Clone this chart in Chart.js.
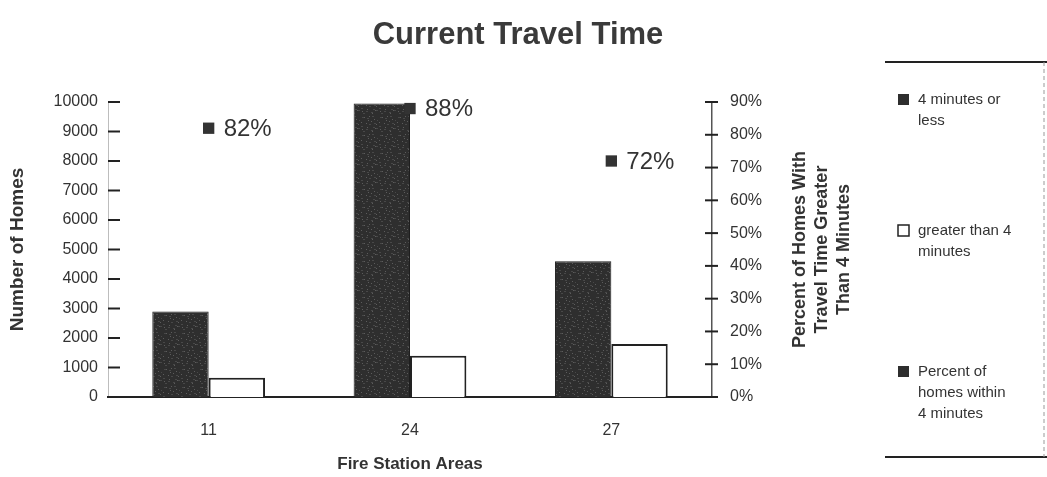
<!DOCTYPE html>
<html>
<head>
<meta charset="utf-8">
<script src="https://cdn.jsdelivr.net/npm/chart.js@4.4.1/dist/chart.umd.min.js"></script>
<style>
  html, body { margin: 0; padding: 0; background: #ffffff; }
  #wrap { position: relative; width: 1047px; height: 477px; }
</style>
</head>
<body>
<div id="wrap"><canvas id="c"></canvas></div>
<script>
// Fire station areas and homes reached by travel time
const stations = ['11', '24', '27'];
const homesWithin4 = [2900, 9950, 4600];
const homesOver4 = [650, 1400, 1800];
const pctWithin4 = [82, 88, 72];

// Axis tick values
const homeTicks = [0, 1000, 2000, 3000, 4000, 5000, 6000, 7000, 8000, 9000, 10000];
const pctTicks = [0, 10, 20, 30, 40, 50, 60, 70, 80, 90];

// Legend wording (wrapped lines)
const legendLines = [
  ['4 minutes or', 'less'],
  ['greater than 4', 'minutes'],
  ['Percent of', 'homes within', '4 minutes']
];
const rightTitleLines = ['Percent of Homes With', 'Travel Time Greater', 'Than 4 Minutes'];

const INK = '#333333';
const FONT = "'Liberation Sans', Arial, sans-serif";

// Grainy dark fill for the "4 minutes or less" bars
function grainPattern() {
  const c = document.createElement('canvas');
  c.width = 18; c.height = 18;
  const g = c.getContext('2d');
  g.fillStyle = '#2e2e2e';
  g.fillRect(0, 0, 18, 18);
  const spots = [[2,3],[7,1],[12,5],[15,2],[4,9],[9,8],[14,11],[1,14],[6,15],[11,13],[16,16],[8,12]];
  g.fillStyle = '#5c5c5c';
  spots.forEach(([x, y]) => g.fillRect(x, y, 1, 1));
  g.fillStyle = '#484848';
  spots.forEach(([x, y]) => g.fillRect((x + 5) % 18, (y + 7) % 18, 2, 1));
  return g.createPattern(c, 'repeat');
}

const decorPlugin = {
  id: 'decor',
  afterDraw(chart) {
    const ctx = chart.ctx;
    const area = chart.chartArea;
    const yL = chart.scales.y;
    const yR = chart.scales.y1;
    ctx.save();

    // Title
    ctx.fillStyle = '#3a3a3a';
    ctx.font = 'bold 31px ' + FONT;
    ctx.textAlign = 'center';
    ctx.textBaseline = 'middle';
    ctx.fillText('Current Travel Time', 518, 35);

    // Tick marks on both value axes
    ctx.strokeStyle = '#222';
    ctx.lineWidth = 2;
    homeTicks.forEach(v => {
      const y = yL.getPixelForValue(v);
      ctx.beginPath(); ctx.moveTo(area.left, y); ctx.lineTo(area.left + 12, y); ctx.stroke();
    });
    pctTicks.forEach(v => {
      const y = yR.getPixelForValue(v);
      ctx.beginPath(); ctx.moveTo(area.right - 7, y); ctx.lineTo(area.right + 6, y); ctx.stroke();
    });

    // Right axis title, reading upward
    ctx.fillStyle = INK;
    ctx.font = 'bold 18px ' + FONT;
    const cy = (area.top + area.bottom) / 2;
    rightTitleLines.forEach((t, i) => {
      ctx.save();
      ctx.translate(800 + i * 22, cy);
      ctx.rotate(-Math.PI / 2);
      ctx.fillText(t, 0, 0);
      ctx.restore();
    });

    // Percentage labels beside the markers
    const meta = chart.getDatasetMeta(2);
    ctx.font = '24px ' + FONT;
    ctx.textAlign = 'left';
    ctx.fillStyle = INK;
    meta.data.forEach((pt, i) => {
      ctx.fillText(pctWithin4[i] + '%', pt.x + 15, pt.y + 1);
    });

    // Legend panel
    ctx.strokeStyle = '#222';
    ctx.lineWidth = 2;
    ctx.beginPath(); ctx.moveTo(885, 62); ctx.lineTo(1047, 62); ctx.stroke();
    ctx.beginPath(); ctx.moveTo(885, 457); ctx.lineTo(1047, 457); ctx.stroke();
    ctx.strokeStyle = '#999';
    ctx.lineWidth = 1;
    ctx.setLineDash([4, 3]);
    ctx.beginPath(); ctx.moveTo(1044, 62); ctx.lineTo(1044, 457); ctx.stroke();
    ctx.setLineDash([]);

    const rowTops = [100, 231, 372];
    ctx.font = '15px ' + FONT;
    ctx.textBaseline = 'middle';
    chart.data.datasets.forEach((ds, i) => {
      const top = rowTops[i];
      if (i === 1) {
        ctx.fillStyle = '#fff';
        ctx.fillRect(898, top - 6, 11, 11);
        ctx.strokeStyle = '#222';
        ctx.lineWidth = 1.5;
        ctx.strokeRect(898, top - 6, 11, 11);
      } else {
        ctx.fillStyle = '#2e2e2e';
        ctx.fillRect(898, top - 6, 11, 11);
      }
      ctx.fillStyle = INK;
      legendLines[i].forEach((line, k) => {
        ctx.fillText(line, 918, top + k * 21);
      });
    });
    ctx.restore();
  }
};

new Chart(document.getElementById('c'), {
  data: {
    labels: stations,
    datasets: [
      {
        type: 'bar',
        label: '4 minutes or less',
        data: homesWithin4,
        backgroundColor: grainPattern(),
        borderColor: '#1e1e1e',
        borderWidth: 1,
        yAxisID: 'y',
        order: 1,
        categoryPercentage: 0.56,
        barPercentage: 1.0
      },
      {
        type: 'bar',
        label: 'greater than 4 minutes',
        data: homesOver4,
        backgroundColor: '#ffffff',
        borderColor: '#222222',
        borderWidth: 2,
        borderSkipped: 'bottom',
        yAxisID: 'y',
        order: 2,
        categoryPercentage: 0.56,
        barPercentage: 1.0
      },
      {
        type: 'line',
        label: 'Percent of homes within 4 minutes',
        data: pctWithin4,
        yAxisID: 'y1',
        showLine: false,
        pointStyle: 'rect',
        pointRadius: 8,
        pointHoverRadius: 8,
        pointBackgroundColor: '#333333',
        pointBorderColor: '#333333',
        pointBorderWidth: 0,
        order: 0
      }
    ]
  },
  options: {
    responsive: true,
    maintainAspectRatio: false,
    animation: false,
    layout: { padding: { top: 102, left: 0, right: 0, bottom: 0 } },
    plugins: {
      legend: { display: false },
      tooltip: { enabled: false },
      title: { display: false }
    },
    scales: {
      x: {
        grid: { display: false, drawTicks: false },
        border: { display: true, color: '#222', width: 2 },
        ticks: { color: INK, font: { family: FONT, size: 16 }, padding: 24 },
        title: {
          display: true,
          text: 'Fire Station Areas',
          color: INK,
          font: { family: FONT, size: 17, weight: 'bold' },
          padding: { top: 0, bottom: 2 }
        },
        afterFit(s) { s.height = 80; }
      },
      y: {
        position: 'left',
        min: 0,
        max: 10000,
        afterBuildTicks(s) { s.ticks = homeTicks.map(v => ({ value: v })); },
        grid: { display: false, drawTicks: false },
        border: { display: true, color: '#bdbdbd', width: 1, dash: [2, 3] },
        ticks: { color: INK, font: { family: FONT, size: 16 }, padding: 10, callback: v => String(v) },
        title: {
          display: true,
          text: 'Number of Homes',
          color: INK,
          font: { family: FONT, size: 19, weight: 'bold' },
          padding: { top: 6, bottom: 0 }
        },
        afterFit(s) { s.width = 108; }
      },
      y1: {
        position: 'right',
        min: 0,
        max: 90,
        afterBuildTicks(s) { s.ticks = pctTicks.map(v => ({ value: v })); },
        grid: { display: false, drawTicks: false },
        border: { display: true, color: '#555', width: 1.5 },
        ticks: { color: INK, font: { family: FONT, size: 16 }, padding: 18, callback: v => v + '%' },
        afterFit(s) { s.width = 335; }
      }
    }
  },
  plugins: [decorPlugin]
});
</script>
</body>
</html>
